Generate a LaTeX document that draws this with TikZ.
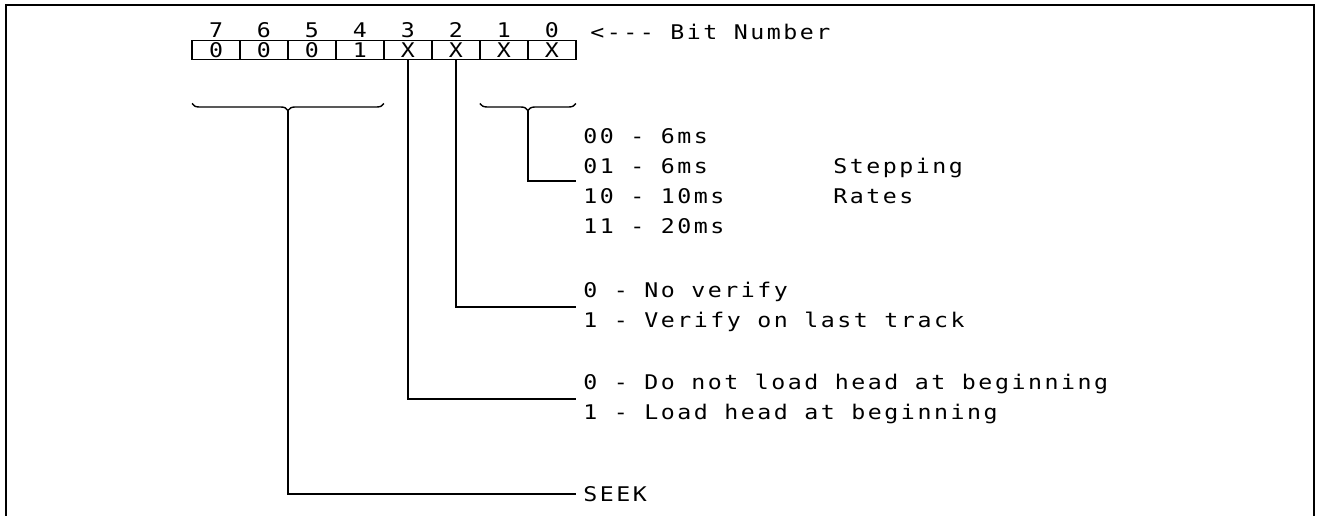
\documentclass[tikz,border=0pt]{standalone}
\usepackage{fontspec}
\usetikzlibrary{positioning,calc,decorations.pathreplacing}
\newfontfamily\termfont[FakeStretch=1.15,LetterSpace=12.5,Ligatures=TeXOff]{DejaVu Sans Mono}
\tikzset{
  base/.style={font=\termfont\fontsize{11.5}{17}\selectfont,inner sep=0pt},
  cell/.style={base,draw,line width=0.9pt,minimum width=0.96cm,minimum height=0.38cm,outer sep=0pt},
  bitnum/.style={base},
  legend/.style={base,align=left,anchor=west,inner xsep=0.14cm},
  link/.style={line width=0.8pt},
  field/.style={link,decorate,decoration={brace,amplitude=0.14cm,mirror}},
  outline/.style={line width=1.6pt}
}
\begin{document}
\begin{tikzpicture}[x=0.02cm,y=-0.02cm]
\useasboundingbox (0,0) rectangle (1323,516);
\draw[outline] (6,516) -- (6,5) -- (1314,5) -- (1314,516);

% command byte
\node[cell] (c7) at (216,50) {0};
\node[cell,right=0pt of c7] (c6) {0};
\node[cell,right=0pt of c6] (c5) {0};
\node[cell,right=0pt of c5] (c4) {1};
\node[cell,right=0pt of c4] (c3) {X};
\node[cell,right=0pt of c3] (c2) {X};
\node[cell,right=0pt of c2] (c1) {X};
\node[cell,right=0pt of c1] (c0) {X};

\node[bitnum,above=0.05cm of c7] (n7) {7};
\node[bitnum,above=0.05cm of c6] (n6) {6};
\node[bitnum,above=0.05cm of c5] (n5) {5};
\node[bitnum,above=0.05cm of c4] (n4) {4};
\node[bitnum,above=0.05cm of c3] (n3) {3};
\node[bitnum,above=0.05cm of c2] (n2) {2};
\node[bitnum,above=0.05cm of c1] (n1) {1};
\node[bitnum,above=0.05cm of c0] (n0) {0};
\node[legend] (bitlabel) at (583,32) {<---  Bit Number};

% meanings
\node[legend] (rates) at (576,181) {00 - 6ms\\01 - 6ms\\10 - 10ms\\11 - 20ms};
\node[legend] (stepping) at (826,181) {Stepping\\Rates};
\node[legend] (verify) at (576,307) {0 - No verify\\1 - Verify on last track};
\node[legend] (head) at (576,399) {0 - Do not load head at beginning\\1 - Load head at beginning};
\node[legend] (seek) at (576,494) {SEEK};

% braces
\draw[field] ($(c7.south west)+(0,44)$) -- ($(c4.south east)+(0,44)$);
\draw[field] ($(c1.south west)+(0,44)$) -- ($(c0.south east)+(0,44)$);
\coordinate (seektip) at ($(c7.south west)!.5!(c4.south east)+(0,51)$);
\coordinate (ratetip) at ($(c1.south west)!.5!(c0.south east)+(0,51)$);

\draw[link] (ratetip) |- (rates.west);
\draw[link] (c2.south) |- (verify.west);
\draw[link] (c3.south) |- (head.west);
\draw[link] (seektip) |- (seek.west);
\end{tikzpicture}
\end{document}
